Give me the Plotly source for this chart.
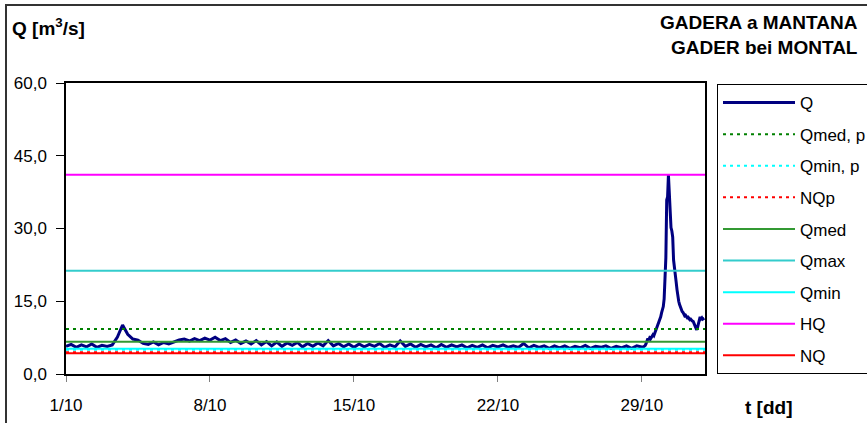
import pandas as pd
import plotly.graph_objects as go

# ---------------- data ----------------
START = pd.Timestamp("2010-10-01 00:00")
END_DAYS = 31.07

# discharge Q every 6 hours, 1/10 00:00 .. 29/10 00:00
q_6h = [
    5.7, 6.1, 5.5, 6.0,
    5.6, 6.2, 5.5, 5.9,
    5.7, 6.0, 7.6, 10.1,
    8.2, 7.2, 7.0, 6.3,
    6.1, 6.6, 6.0, 6.5,
    6.2, 6.6, 7.0, 7.2,
    6.8, 7.3, 6.9, 7.4,
    7.0, 7.6, 6.9, 7.3,
    6.5, 7.0, 6.3, 6.8,
    6.2, 6.9, 6.0, 6.7,
    5.8, 6.6, 5.7, 6.4,
    5.9, 6.5, 5.6, 6.3,
    5.7, 6.4, 5.8, 6.9,
    5.8, 6.3, 5.6, 6.2,
    5.5, 6.2, 5.6, 6.1,
    5.7, 6.3, 5.5, 6.0,
    5.6, 6.8, 5.7, 6.2,
    5.5, 6.1, 5.6, 6.0,
    5.4, 6.1, 5.5, 6.0,
    5.6, 6.0, 5.4, 5.9,
    5.5, 6.0, 5.4, 5.9,
    5.6, 6.0, 5.5, 5.8,
    5.5, 6.3, 5.4, 5.9,
    5.5, 5.8, 5.3, 5.8,
    5.4, 5.8, 5.3, 5.7,
    5.4, 5.9, 5.3, 5.7,
    5.5, 5.8, 5.3, 5.7,
    5.4, 5.8, 5.3, 5.8,
    5.5,
]

# hourly discharge during the flood, from 29/10 01:00
q_flood = [
    5.5, 5.6, 5.7, 5.9, 6.3, 6.9, 7.3, 7.0, 7.4, 7.2, 7.6, 7.8,
    8.1, 7.9, 8.4, 8.8, 9.3, 9.8, 10.2, 10.6, 11.1, 11.8, 12.6, 13.2,
    13.9, 15.5, 18.7, 24.0, 35.9, 36.5, 41.0, 36.0, 34.5, 30.2, 29.5, 28.2,
    23.5, 21.5, 20.0, 19.0, 17.4, 15.8, 15.0, 14.3, 13.8, 13.2, 12.9, 12.7,
    12.3, 12.0, 12.1, 11.8, 11.6, 11.7, 11.4, 11.2, 11.3, 11.0, 10.9, 10.8,
    10.3, 9.9, 9.5, 9.1, 9.6, 10.4, 11.2, 11.8, 11.4, 11.6, 11.3, 11.5,
    11.5,
]

level_names = ["Qmed, p", "Qmin, p", "NQp", "Qmed", "Qmax", "Qmin", "HQ", "NQ"]
level_values = [9.3, 5.0, 4.5, 6.65, 21.3, 5.2, 41.1, 4.3]
level_colors = ["#008000", "#00FFFF", "#FF0000", "#339933", "#33CCCC", "#00FFFF", "#FF00FF", "#FF0000"]
level_dash = ["3px,4px", "3px,4px", "3px,4px", "solid", "solid", "solid", "solid", "solid"]

tick_days = [0, 7, 14, 21, 28]
tick_labels = ["1/10", "8/10", "15/10", "22/10", "29/10"]

# ---------------- figure ----------------
t_6h = pd.date_range(START, periods=len(q_6h), freq="6h")
t_flood = pd.date_range(START + pd.Timedelta(days=28, hours=1), periods=len(q_flood), freq="h")
q_time = list(t_6h) + list(t_flood)
q_vals = q_6h + q_flood

x_end = START + pd.Timedelta(days=END_DAYS)

FONT = "Liberation Sans, Arial, sans-serif"

fig = go.Figure()
fig.add_trace(go.Scatter(
    x=q_time, y=q_vals, mode="lines", name="Q",
    line=dict(color="#000080", width=3), legendgroup="Q",
))
for name, val, col, dash in zip(level_names, level_values, level_colors, level_dash):
    fig.add_trace(go.Scatter(
        x=[START, x_end], y=[val, val], mode="lines", name=name,
        line=dict(color=col, width=2, dash=dash), legendgroup=name,
    ))

W, H = 867, 423
L, R, T, B = 66, 162, 83, 49
pw, ph = W - L - R, H - T - B


def px(xp):
    return (xp - L) / pw


def py(yp):
    return (H - B - yp) / ph


fig.update_layout(
    width=W, height=H,
    margin=dict(l=L, r=R, t=T, b=B, autoexpand=False),
    paper_bgcolor="white", plot_bgcolor="white",
    font=dict(family=FONT, size=17, color="black"),
    separators=", ",
    showlegend=True,
    legend=dict(
        x=px(717), y=py(84), xanchor="left", yanchor="top",
        bordercolor="black", borderwidth=1,
        font=dict(size=17, family=FONT),
        itemwidth=72, tracegroupgap=6.5,
        traceorder="grouped",
    ),
    xaxis=dict(
        type="date",
        range=[START, x_end],
        tickvals=[START + pd.Timedelta(days=d) for d in tick_days],
        ticktext=tick_labels,
        showgrid=False, zeroline=False,
        showline=True, linecolor="black", linewidth=1.5, mirror=True,
        ticks="outside", ticklen=6, tickcolor="#808080",
        ticklabelstandoff=9,
    ),
    yaxis=dict(
        range=[0, 60], dtick=15, tick0=0, tickformat=".1f",
        showgrid=False, zeroline=False,
        showline=True, linecolor="black", linewidth=1.5, mirror=True,
        ticks="outside", ticklen=8, tickcolor="black",
        ticklabelstandoff=6,
    ),
    shapes=[
        dict(type="rect", xref="paper", yref="paper",
             x0=px(6), x1=px(890), y0=py(440), y1=py(5),
             line=dict(color="#333333", width=2), fillcolor="rgba(0,0,0,0)", layer="below"),
    ],
    annotations=[
        dict(text="<b>Q [m<sup>3</sup>/s]</b>", xref="paper", yref="paper",
             x=px(10), y=py(27), xanchor="left", yanchor="middle", showarrow=False,
             font=dict(size=19, family=FONT)),
        dict(text="<b>GADERA a MANTANA</b>", xref="paper", yref="paper",
             x=px(860), y=py(22), xanchor="right", yanchor="middle", showarrow=False,
             font=dict(size=19, family=FONT)),
        dict(text="<b>GADER bei MONTAL</b>", xref="paper", yref="paper",
             x=px(860), y=py(47), xanchor="right", yanchor="middle", showarrow=False,
             font=dict(size=19, family=FONT)),
        dict(text="<b>t [dd]</b>", xref="paper", yref="paper",
             x=px(769), y=py(407), xanchor="center", yanchor="middle", showarrow=False,
             font=dict(size=19, family=FONT)),
    ],
)

fig.write_html(
    "out.html",
    config={"responsive": False, "displayModeBar": False},
    post_script="document.body.style.margin='0';document.body.style.overflow='hidden';",
)
